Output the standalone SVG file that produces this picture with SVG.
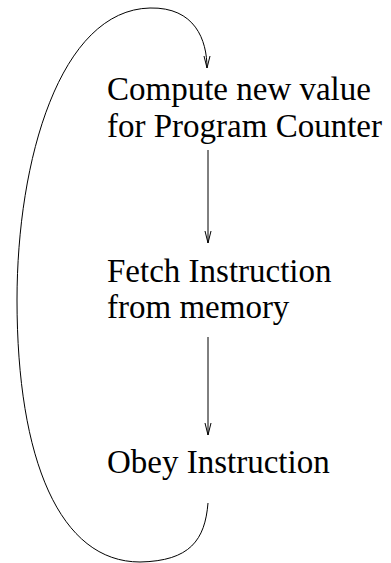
<svg xmlns="http://www.w3.org/2000/svg" width="391" height="563" viewBox="0 0 391 563">
<style>
text{font-family:"Liberation Serif","Times New Roman",serif;font-size:33px;fill:#000}
.c{fill:none;stroke:#000;stroke-width:1}
</style>
<defs>
<marker id="ah" markerWidth="14" markerHeight="8" refX="12" refY="4" orient="auto" markerUnits="userSpaceOnUse" viewBox="0 0 14 8">
<path d="M0 1 L12 4 L0 7" fill="none" stroke="#000" stroke-width="1"/>
</marker>
</defs>
<rect width="391" height="563" fill="#fff"/>
<g id="connectors">
<line class="c" x1="208" y1="150" x2="208" y2="243" marker-end="url(#ah)"/>
<line class="c" x1="208" y1="337" x2="208" y2="435" marker-end="url(#ah)"/>
<path class="c" d="M208 503 C205 540 190 561 140 562 C60 562 17 460 17 300 C17 160 60 10 150 8 C195 7 207 40 207 68" marker-end="url(#ah)"/>
</g>
<g id="node-compute">
<text x="107" y="100">Compute new value</text>
<text x="107" y="137">for Program Counter</text>
</g>
<g id="node-fetch">
<text x="107" y="282">Fetch Instruction</text>
<text x="107" y="318">from memory</text>
</g>
<g id="node-obey">
<text x="107" y="473">Obey Instruction</text>
</g>
</svg>
